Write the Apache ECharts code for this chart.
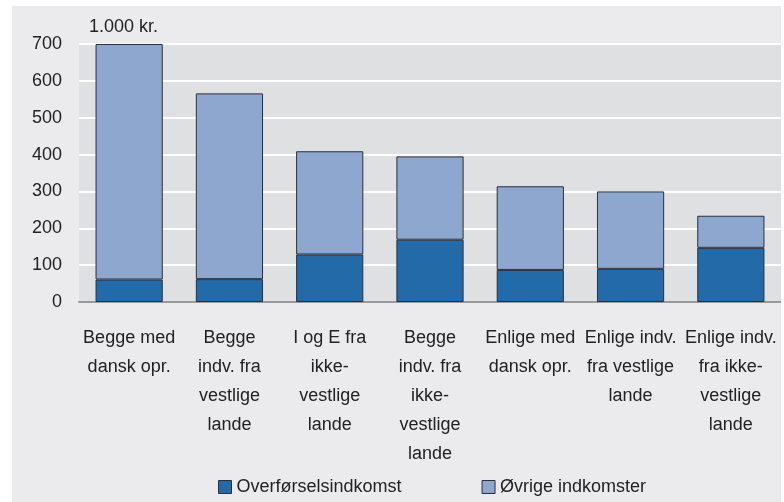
<!DOCTYPE html>
<html>
<head>
<meta charset="utf-8">
<script src="https://cdn.jsdelivr.net/npm/echarts@6/dist/echarts.min.js"></script>
<style>
  html, body { margin: 0; padding: 0; background: #ffffff; }
  #chart { position: absolute; left: 12px; top: 6px; width: 769px; height: 496px; background: #ebebed; }
</style>
</head>
<body>
<div id="chart"></div>
<script>
// Household groups on the category axis
const categories = [
  'Begge med\ndansk opr.',
  'Begge\nindv. fra\nvestlige\nlande',
  'I og E fra\nikke-\nvestlige\nlande',
  'Begge\nindv. fra\nikke-\nvestlige\nlande',
  'Enlige med\ndansk opr.',
  'Enlige indv.\nfra vestlige\nlande',
  'Enlige indv.\nfra ikke-\nvestlige\nlande'
];

// Income in 1.000 kr.
const transferIncome = [61, 62, 129, 169, 87, 90, 147];
const otherIncome    = [639, 504, 280, 226, 227, 210, 87];

const yTicks = { min: 0, max: 700, interval: 100 };

const seriesNames = ['Overførselsindkomst', 'Øvrige indkomster'];
const seriesColors = ['#226aa8', '#8da7ce'];

const font = "'Liberation Sans', sans-serif";

const chart = echarts.init(document.getElementById('chart'));
chart.setOption({
  animation: false,
  textStyle: { fontFamily: font },
  grid: { left: 67, right: 0, top: 38, bottom: 200, backgroundColor: '#dfe0e2', show: true, borderWidth: 0 },
  legend: {
    left: 201, bottom: 1,
    itemWidth: 13, itemHeight: 13, itemGap: 80,
    icon: 'rect',
    textStyle: { fontFamily: font, fontSize: 18, color: '#222' },
    data: seriesNames.map(n => ({ name: n, itemStyle: { borderColor: '#2b2f3a', borderWidth: 1 } }))
  },
  xAxis: {
    type: 'category',
    data: categories,
    axisTick: { show: false },
    axisLine: { lineStyle: { color: '#9a9a9a', width: 2 } },
    axisLabel: { interval: 0, margin: 22, fontSize: 18, lineHeight: 29, color: '#222', fontFamily: font }
  },
  yAxis: {
    type: 'value',
    min: yTicks.min, max: yTicks.max, interval: yTicks.interval,
    name: '1.000 kr.',
    nameLocation: 'end',
    nameGap: 8,
    nameTextStyle: { fontFamily: font, fontSize: 18, color: '#222', align: 'left', padding: [0, 0, 0, 10] },
    axisLine: { show: false },
    axisTick: { show: false },
    axisLabel: { margin: 17, fontSize: 18, color: '#222', fontFamily: font },
    splitLine: { lineStyle: { color: '#ffffff', width: 2 } }
  },
  series: [
    {
      name: seriesNames[0], type: 'bar', stack: 'total', data: transferIncome,
      barCategoryGap: '33%',
      itemStyle: { color: seriesColors[0], borderColor: '#2b2f3a', borderWidth: 1 }
    },
    {
      name: seriesNames[1], type: 'bar', stack: 'total', data: otherIncome,
      barCategoryGap: '33%',
      itemStyle: { color: seriesColors[1], borderColor: '#2b2f3a', borderWidth: 1 }
    }
  ]
});
</script>
</body>
</html>
